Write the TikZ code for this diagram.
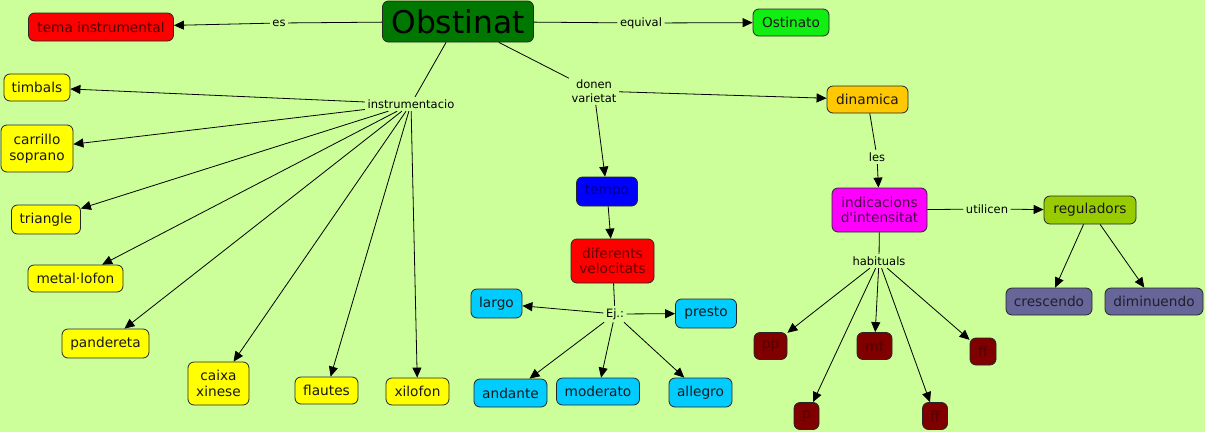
\documentclass[tikz,border=0pt]{standalone}
\usepackage{fontspec}
\usetikzlibrary{arrows.meta}
\newfontfamily\dvfont{DejaVu Sans}
\definecolor{bgc}{HTML}{CCFF99}
\definecolor{obstc}{HTML}{007700}
\definecolor{ostc}{HTML}{11EE11}
\definecolor{yelc}{HTML}{FFFF00}
\definecolor{redc}{HTML}{FF0000}
\definecolor{orc}{HTML}{FFC800}
\definecolor{bluc}{HTML}{0000FF}
\definecolor{cyc}{HTML}{00CCFF}
\definecolor{magc}{HTML}{FF00FF}
\definecolor{regc}{HTML}{99CC00}
\definecolor{grayc}{HTML}{666699}
\definecolor{drc}{HTML}{800000}
\tikzset{
  cbox/.style={draw=black!85, line width=0.8pt, rounded corners=6pt, inner sep=0pt,
    align=center, font=\dvfont\fontsize{13.7}{15.5}\selectfont, text=black!90},
  lbl/.style={inner sep=2.5pt, align=center, font=\dvfont\fontsize{11.5}{14}\selectfont},
  arr/.style={-{Triangle[length=10pt,width=9pt]}, line width=0.8pt},
  ln/.style={line width=0.8pt},
  sz/.style 2 args={minimum width=#1pt, minimum height=#2pt},
}
\begin{document}
\begin{tikzpicture}[x=1pt,y=-1pt]
\fill[bgc] (0,0) rectangle (1205,432);
\useasboundingbox (0,0) rectangle (1205,432);
% concepts
\node[cbox, sz={151}{41}, fill=obstc, font=\dvfont\fontsize{31.3}{33}\selectfont, text=black] (obst) at (458,21.5) {Obstinat};
\node[cbox, sz={145}{28}, fill=redc, text=red!30!black] (tema) at (101,27) {tema instrumental};
\node[cbox, sz={76}{27}, fill=ostc] (ost) at (791,22.5) {Ostinato};
\node[cbox, sz={66}{27}, fill=yelc] (timb) at (37,87.5) {timbals};
\node[cbox, sz={72}{47}, fill=yelc] (carr) at (37,148.5) {carrillo\\soprano};
\node[cbox, sz={69}{29}, fill=yelc] (tri) at (46,219.5) {triangle};
\node[cbox, sz={95}{27}, fill=yelc] (metal) at (75.5,278.5) {metal·lofon};
\node[cbox, sz={87}{29}, fill=yelc] (pand) at (105.5,343.5) {pandereta};
\node[cbox, sz={61}{43}, fill=yelc] (caixa) at (218.5,383.5) {caixa\\xinese};
\node[cbox, sz={63}{27}, fill=yelc] (flau) at (326.5,390.5) {flautes};
\node[cbox, sz={63}{27}, fill=yelc] (xilo) at (417.5,391.5) {xilofon};
\node[cbox, sz={81}{27}, fill=orc] (din) at (867.5,99.5) {dinamica};
\node[cbox, sz={61}{29}, fill=bluc, text=bluc!55!black] (tempo) at (607,191.5) {tempo};
\node[cbox, sz={83}{44}, fill=redc, text=red!40!black] (dif) at (612.5,261) {diferents\\velocitats};
\node[cbox, sz={51}{29}, fill=cyc] (largo) at (496.5,303.5) {largo};
\node[cbox, sz={61}{29}, fill=cyc] (presto) at (706,313.5) {presto};
\node[cbox, sz={73}{28}, fill=cyc] (and) at (510.5,393) {andante};
\node[cbox, sz={83}{27}, fill=cyc] (mod) at (598,391.5) {moderato};
\node[cbox, sz={63}{29}, fill=cyc] (alle) at (700.5,392.5) {allegro};
\node[cbox, sz={95}{44}, fill=magc, text=magc!30!black] (ind) at (879.5,210) {indicacions\\d'intensitat};
\node[cbox, sz={92}{28}, fill=regc] (reg) at (1090,210) {reguladors};
\node[cbox, sz={86}{27}, fill=grayc, text=grayc!30!black] (cres) at (1049,301.5) {crescendo};
\node[cbox, sz={98}{27}, fill=grayc, text=grayc!30!black] (dimi) at (1154,301.5) {diminuendo};
\node[cbox, sz={33}{27}, fill=drc, text=drc!65!black] (pp) at (770.5,346) {pp};
\node[cbox, sz={35}{27}, fill=drc, text=drc!65!black] (mf) at (874.5,346) {mf};
\node[cbox, sz={26}{27}, fill=drc, text=drc!65!black] (ffr) at (983,351.5) {ff};
\node[cbox, sz={25}{27}, fill=drc, text=drc!65!black] (p) at (806.5,416) {p};
\node[cbox, sz={25}{27}, fill=drc, text=drc!65!black] (ffb) at (935,416) {ff};
% link labels
\node[lbl] (es) at (279,23) {es};
\node[lbl] (equ) at (641,23) {equival};
\node[lbl] (instr) at (411,104) {instrumentacio};
\node[lbl, font=\dvfont\fontsize{11.5}{13.5}\selectfont] (donen) at (594,91) {donen\\varietat};
\node[lbl] (les) at (877,157) {les};
\node[lbl] (ej) at (615,314) {Ej.:};
\node[lbl] (util) at (987,209) {utilicen};
\node[lbl] (hab) at (879,261) {habituals};
% connectors
\draw[ln] (obst) -- (es); \draw[arr] (es) -- (tema);
\draw[ln] (obst) -- (equ); \draw[arr] (equ) -- (ost);
\draw[ln] (obst) -- (instr);
\foreach \t in {timb,carr,tri,metal,pand,caixa,flau,xilo} \draw[arr] (instr) -- (\t);
\draw[ln] (obst) -- (donen);
\draw[arr] (donen) -- (din);
\draw[arr] (donen) -- (tempo);
\draw[ln] (din) -- (les); \draw[arr] (les) -- (ind);
\draw[arr] (tempo) -- (dif);
\draw[ln] (dif) -- (ej);
\foreach \t in {largo,presto,and,mod,alle} \draw[arr] (ej) -- (\t);
\draw[ln] (ind) -- (util); \draw[arr] (util) -- (reg);
\draw[arr] (reg) -- (cres);
\draw[arr] (reg) -- (dimi);
\draw[ln] (ind) -- (hab);
\foreach \t in {pp,p,mf,ffb,ffr} \draw[arr] (hab) -- (\t);
\end{tikzpicture}
\end{document}
